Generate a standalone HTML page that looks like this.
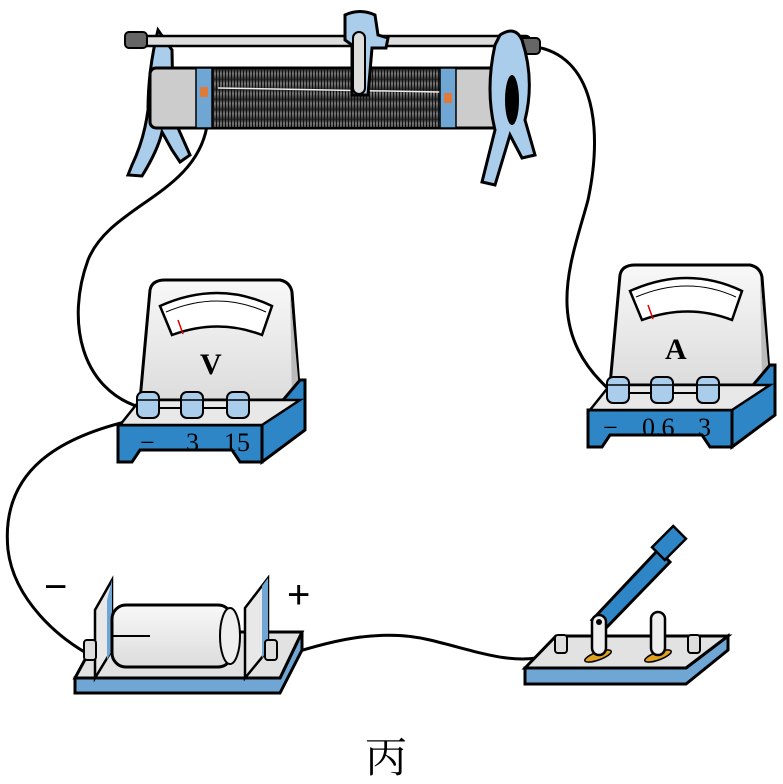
<!DOCTYPE html>
<html><head><meta charset="utf-8"><style>
html,body{margin:0;padding:0;background:#fff;width:783px;height:784px;overflow:hidden}
svg{display:block}
</style></head><body>
<svg width="783" height="784" viewBox="0 0 783 784" xmlns="http://www.w3.org/2000/svg">
<defs>
<linearGradient id="g1" x1="0" y1="0" x2="0" y2="1"><stop offset="0" stop-color="#f8f8f8"/><stop offset="1" stop-color="#dcdcdc"/></linearGradient>
<linearGradient id="coil" x1="0" y1="0" x2="0" y2="1"><stop offset="0" stop-color="#333"/><stop offset=".35" stop-color="#777"/><stop offset="1" stop-color="#222"/></linearGradient>
<pattern id="wind" width="3" height="10" patternUnits="userSpaceOnUse"><rect width="3" height="10" fill="url(#coil)"/><rect width="1" height="10" fill="#111"/></pattern>
<g id="meter">
  <path d="M140,400 L150,290 Q152,280 165,280 L280,280 Q290,282 292,292 L300,400 Z" fill="url(#g1)" stroke="#000" stroke-width="3"/>
  <path d="M290,290 L300,400 L292,400 Z" fill="#bbb"/>
  <path d="M160,306 Q218,280 272,306 L262,335 Q218,318 172,335 Z" fill="#fff" stroke="#000" stroke-width="2.5"/>
  <path d="M166,312 Q218,290 266,312" fill="none" stroke="#000" stroke-width="1"/>
  <line x1="178" y1="320" x2="183" y2="334" stroke="#d00" stroke-width="1.5"/>
  <path d="M300,380 L305,380 L305,430 L262,462 L262,425 Z" fill="#2e86c6" stroke="#000" stroke-width="3"/>
  <path d="M118,425 L262,425 L262,462 L240,462 L232,450 L140,450 L132,462 L118,462 Z" fill="#2e86c6" stroke="#000" stroke-width="3"/>
  <path d="M120,425 L140,400 L300,400 L262,425 Z" fill="#e8e8e8" stroke="#000" stroke-width="2.5"/>
  <line x1="148" y1="408" x2="238" y2="408" stroke="#000" stroke-width="2"/>
  <g fill="#a9cdea" stroke="#000" stroke-width="2">
    <rect x="137" y="392" width="22" height="26" rx="6"/><rect x="181" y="392" width="22" height="26" rx="6"/><rect x="227" y="392" width="22" height="26" rx="6"/>
  </g>
  <g fill="none" stroke="#000" stroke-width="1.5"><path d="M137,400 h22 M181,400 h22 M227,400 h22"/></g>
</g>
</defs>

<!-- wires -->
<g fill="none" stroke="#000" stroke-width="3">
<path d="M207,126 C195,195 110,205 88,260 C66,320 80,390 142,408"/>
<path d="M142,418 C60,435 0,470 8,550 C14,600 60,640 92,656"/>
<path d="M528,46 C590,50 605,120 588,200 C572,260 540,330 612,392"/>
<path d="M272,660 C330,640 380,628 430,640 C480,652 510,665 548,656"/>
</g>

<!-- rheostat -->
<path d="M158,30 Q148,70 148,110 Q144,140 132,165 L128,175 L142,176 Q158,150 162,132 L172,150 L180,162 L190,155 L178,128 Q172,90 172,50 Z" fill="#a9cdea" stroke="#000" stroke-width="3"/>
<rect x="150" y="68" width="360" height="60" rx="6" fill="#ccc" stroke="#000" stroke-width="3"/>
<rect x="212" y="68" width="230" height="60" fill="url(#wind)" stroke="#000" stroke-width="2"/>
<line x1="218" y1="88" x2="440" y2="92" stroke="#eee" stroke-width="1.5"/>
<rect x="196" y="68" width="16" height="60" fill="#6fa6d4" stroke="#000" stroke-width="1.5"/>
<rect x="440" y="68" width="16" height="60" fill="#6fa6d4" stroke="#000" stroke-width="1.5"/>
<rect x="200" y="87" width="8" height="10" fill="#e07a3a"/><rect x="444" y="93" width="8" height="10" fill="#e07a3a"/>
<rect x="130" y="36" width="400" height="10" rx="4" fill="#ddd" stroke="#000" stroke-width="2.5"/>
<rect x="125" y="32" width="22" height="16" rx="4" fill="#666" stroke="#000" stroke-width="2"/>
<rect x="518" y="38" width="22" height="16" rx="4" fill="#666" stroke="#000" stroke-width="2"/>
<path d="M500,35 Q515,25 522,40 Q535,80 525,120 L535,155 L522,158 L510,135 L495,185 L482,182 L495,130 Q485,90 495,45 Z" fill="#a9cdea" stroke="#000" stroke-width="3"/>
<ellipse cx="512" cy="100" rx="7" ry="25" fill="#000"/>
<path d="M345,15 Q360,8 375,15 L378,35 L388,38 L386,48 L372,48 L368,95 L352,95 L352,45 L345,40 Z" fill="#a9cdea" stroke="#000" stroke-width="3"/>
<rect x="353" y="32" width="12" height="62" rx="6" fill="#ddd" stroke="#000" stroke-width="2"/>

<!-- meters -->
<use href="#meter"/>
<use href="#meter" transform="translate(470,-15)"/>
<g font-family="'Liberation Serif',serif" font-size="26" fill="#000">
<text x="200" y="374" font-weight="bold" font-size="30">V</text>
<text x="665" y="359" font-weight="bold" font-size="30">A</text>
<text x="140" y="451">−</text><text x="186" y="451">3</text><text x="224" y="451">15</text>
<text x="603" y="436">−</text><text x="642" y="436">0.6</text><text x="698" y="436">3</text>
</g>

<!-- battery -->
<path d="M75,693 L280,693 L302,650 L302,632 L280,678 L75,678 Z" fill="#6fa6d4" stroke="#000" stroke-width="3"/>
<path d="M75,678 L100,632 L302,632 L280,678 Z" fill="#e2e2e2" stroke="#000" stroke-width="3"/>
<path d="M95,610 L112,580 L112,650 L95,678 Z" fill="#e8e8e8" stroke="#000" stroke-width="2.5"/>
<path d="M107,600 L112,580 L112,650 L107,660Z" fill="#6fa6d4"/>
<rect x="112" y="605" width="120" height="62" rx="14" fill="url(#g1)" stroke="#000" stroke-width="3"/>
<line x1="112" y1="636" x2="150" y2="636" stroke="#000" stroke-width="2"/>
<ellipse cx="230" cy="636" rx="10" ry="28" fill="#eee" stroke="#000" stroke-width="2"/>
<path d="M245,608 L268,578 L268,650 L245,678 Z" fill="#e8e8e8" stroke="#000" stroke-width="2.5"/>
<path d="M262,586 L268,578 L268,650 L262,658Z" fill="#6fa6d4"/>
<rect x="84" y="640" width="12" height="20" rx="3" fill="#ddd" stroke="#000" stroke-width="2"/>
<rect x="265" y="640" width="12" height="20" rx="3" fill="#ddd" stroke="#000" stroke-width="2"/>
<text x="44" y="600" font-family="'Liberation Sans',sans-serif" font-size="40">−</text>
<text x="287" y="608" font-family="'Liberation Sans',sans-serif" font-size="40">+</text>

<!-- switch -->
<path d="M525,684 L686,684 L728,650 L728,636 L686,668 L525,668 Z" fill="#6fa6d4" stroke="#000" stroke-width="3"/>
<path d="M525,668 L556,636 L728,636 L686,668 Z" fill="#e2e2e2" stroke="#000" stroke-width="3"/>
<ellipse cx="598" cy="656" rx="14" ry="4" fill="#e0a020" stroke="#000" stroke-width="1.5" transform="rotate(-20 598 656)"/>
<ellipse cx="658" cy="656" rx="14" ry="4" fill="#e0a020" stroke="#000" stroke-width="1.5" transform="rotate(-20 658 656)"/>
<path d="M592,620 L658,550 L670,562 L606,628 Z" fill="#2e86c6" stroke="#000" stroke-width="3"/>
<rect x="592" y="615" width="14" height="40" rx="7" fill="#eee" stroke="#000" stroke-width="2.5"/>
<rect x="651" y="612" width="14" height="43" rx="7" fill="#eee" stroke="#000" stroke-width="2.5"/>
<rect x="654" y="534" width="30" height="18" transform="rotate(-45 669 543)" fill="#2e86c6" stroke="#000" stroke-width="2.5"/>
<circle cx="599" cy="622" r="3" fill="#000"/>
<rect x="555" y="635" width="12" height="18" rx="3" fill="#ddd" stroke="#000" stroke-width="2"/>
<rect x="688" y="635" width="12" height="18" rx="3" fill="#ddd" stroke="#000" stroke-width="2"/>

<text x="365" y="772" font-family="'Liberation Serif','Noto Serif CJK SC',serif" font-size="42">丙</text>
</svg>
</body></html>
